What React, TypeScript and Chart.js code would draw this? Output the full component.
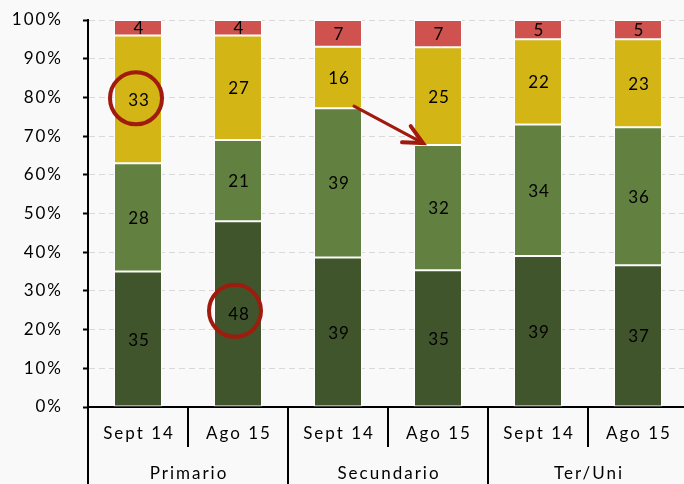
import React, { useEffect, useRef } from "react";
import { Chart, registerables } from "chart.js";

Chart.register(...registerables);

// ---- data ----
const groups = ["Primario", "Secundario", "Ter/Uni"];
const categories = ["Sept 14", "Ago 15", "Sept 14", "Ago 15", "Sept 14", "Ago 15"];
const darkGreen = [35, 48, 39, 35, 39, 37];
const midGreen = [28, 21, 39, 32, 34, 36];
const yellow = [33, 27, 16, 25, 22, 23];
const red = [4, 4, 7, 7, 5, 5];
const yTickStep = 10;

const COLORS = ["#40552b", "#62803f", "#d3b515", "#d0524e"];
const MARK = "#a01a0e";
const BG = "#f9f9f9";
const FONT = "Lato, 'Open Sans', sans-serif";

const raw = [darkGreen, midGreen, yellow, red];
const totals = categories.map((_, i) => raw.reduce((s, arr) => s + arr[i], 0));

const decoPlugin = {
  id: "deco",
  beforeDraw(chart: any) {
    const ctx = chart.ctx;
    ctx.save();
    ctx.fillStyle = BG;
    ctx.fillRect(0, 0, chart.width, chart.height);
    ctx.restore();
    (ctx as any).letterSpacing = "2px";
  },
  afterDatasetsDraw(chart: any) {
    const ctx = chart.ctx;
    ctx.save();
    (ctx as any).letterSpacing = "1px";
    ctx.font = `17px ${FONT}`;
    ctx.fillStyle = "#000";
    ctx.textAlign = "center";
    ctx.textBaseline = "middle";
    raw.forEach((arr, d) => {
      const meta = chart.getDatasetMeta(d);
      meta.data.forEach((el: any, i: number) => {
        const cy = (el.y + el.base) / 2;
        ctx.fillText(String(arr[i]), el.x + 1, cy + 1);
      });
    });

    // circles
    ctx.strokeStyle = MARK;
    ctx.lineWidth = 4;
    const circ = (d: number, i: number, dx: number, dy: number) => {
      const el: any = chart.getDatasetMeta(d).data[i];
      const cy = (el.y + el.base) / 2;
      ctx.beginPath();
      ctx.arc(el.x + dx, cy + dy, 26, 0, Math.PI * 2);
      ctx.stroke();
    };
    circ(2, 0, -2, -1);
    circ(0, 1, -3, -3);

    // arrow
    const a: any = chart.getDatasetMeta(1).data[2];
    const b: any = chart.getDatasetMeta(1).data[3];
    const x1 = a.x + 16, y1 = a.y - 2;
    const x2 = b.x - 15, y2 = b.y - 2;
    ctx.lineCap = "round";
    ctx.lineWidth = 3;
    ctx.beginPath();
    ctx.moveTo(x1, y1);
    ctx.lineTo(x2, y2);
    ctx.stroke();
    const ang = Math.atan2(y2 - y1, x2 - x1);
    const hl = 21;
    const spread = (26 * Math.PI) / 180;
    ctx.lineWidth = 4;
    ctx.beginPath();
    ctx.moveTo(x2 - hl * Math.cos(ang - spread), y2 - hl * Math.sin(ang - spread));
    ctx.lineTo(x2, y2);
    ctx.lineTo(x2 - hl * Math.cos(ang + spread), y2 - hl * Math.sin(ang + spread));
    ctx.stroke();
    ctx.restore();
  },
  afterDraw(chart: any) {
    const ctx = chart.ctx;
    const xs = chart.scales.x;
    const bottom = chart.chartArea.bottom;
    const half = (xs.getPixelForValue(1) - xs.getPixelForValue(0)) / 2;
    ctx.save();
    (ctx as any).letterSpacing = "2px";
    ctx.strokeStyle = "#000";
    ctx.lineWidth = 2;
    for (let i = 0; i <= categories.length; i++) {
      const x = xs.getPixelForValue(0) - half + i * 2 * half;
      ctx.beginPath();
      ctx.moveTo(x, bottom);
      ctx.lineTo(x, i % 2 === 0 ? chart.height : bottom + 40);
      ctx.stroke();
    }
    ctx.font = `17px ${FONT}`;
    ctx.fillStyle = "#000";
    ctx.textAlign = "center";
    ctx.textBaseline = "middle";
    categories.forEach((c, i) => {
      ctx.fillText(c, xs.getPixelForValue(i) + 1, bottom + 27);
    });
    groups.forEach((g, gi) => {
      const x = (xs.getPixelForValue(gi * 2) + xs.getPixelForValue(gi * 2 + 1)) / 2;
      ctx.fillText(g, x + 1, bottom + 67);
    });
    ctx.restore();
  },
};

export default function App() {
  const ref = useRef<HTMLCanvasElement>(null);
  useEffect(() => {
    document.body.style.margin = "0";
    document.body.style.background = BG;
    const chart = new Chart(ref.current as HTMLCanvasElement, {
      type: "bar",
      data: {
        labels: categories,
        datasets: raw.map((arr, d) => ({
          label: String(d),
          data: arr.map((v, i) => (v / totals[i]) * 100),
          backgroundColor: COLORS[d],
          borderColor: "#ffffff",
          borderWidth: 1,
          borderSkipped: false,
          categoryPercentage: 1,
          barPercentage: 0.48,
        })),
      },
      options: {
        animation: false,
        responsive: false,
        layout: { padding: { top: 20, right: 0, bottom: 0, left: 0 } },
        plugins: { legend: { display: false }, tooltip: { enabled: false } },
        scales: {
          x: {
            stacked: true,
            grid: { display: false },
            border: { display: true, color: "#000", width: 2 },
            ticks: { display: false },
            afterFit: (s: any) => {
              s.height = 77;
            },
          },
          y: {
            stacked: true,
            min: 0,
            max: 100,
            ticks: {
              stepSize: yTickStep,
              callback: (v: any) => `${v}%`,
              font: { family: FONT, size: 17 },
              color: "#000",
              padding: 20,
            },
            grid: {
              color: "#d9d9d9",
              lineWidth: 1,
              tickLength: 5,
              tickColor: "#000",
              tickWidth: 2,
              tickBorderDash: [],
            },
            border: { display: true, color: "#000", width: 2, dash: [6, 4] },
            afterFit: (s: any) => {
              s.width = 88;
              s.paddingTop = 10;
              s.paddingBottom = 10;
            },
          },
        },
      },
      plugins: [decoPlugin],
    } as any);
    return () => chart.destroy();
  }, []);
  return (
    <div
      style={{
        position: "fixed",
        left: 0,
        top: 0,
        width: 684,
        height: 484,
        overflow: "hidden",
        background: BG,
      }}
    >
      <canvas ref={ref} width={688} height={484} style={{ display: "block", width: 688, height: 484 }} />
    </div>
  );
}
